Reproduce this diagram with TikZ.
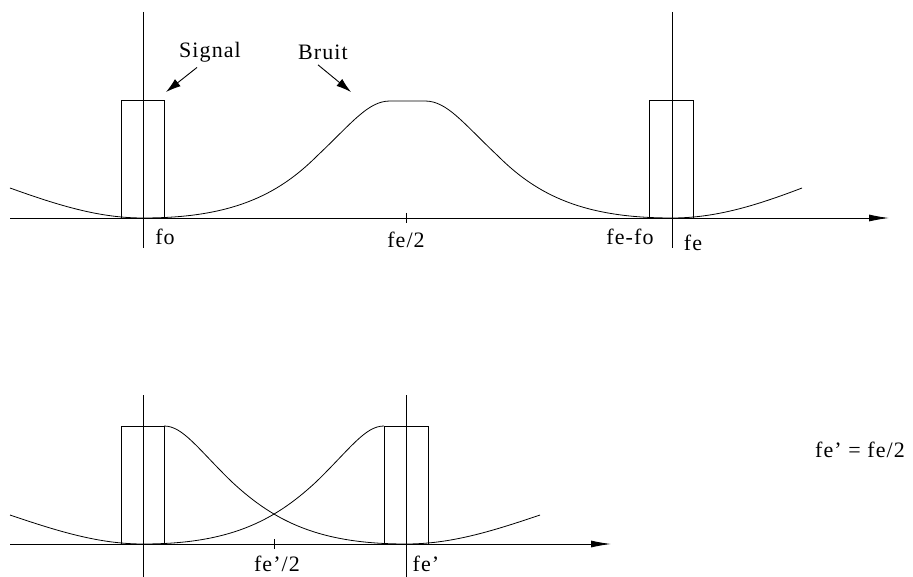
\documentclass[tikz,border=0pt]{standalone}
\usepackage{fontspec}
\setmainfont{Liberation Serif}[LetterSpace=5]
\usetikzlibrary{arrows.meta}
\begin{document}
\begin{tikzpicture}[x=1pt,y=-1pt,line width=0.9pt,
  lbl/.style={inner sep=0pt,font=\fontsize{22}{24}\selectfont},
  axisarrow/.style={-{Latex[length=20pt,width=7pt]}},
  ptr/.style={-{Latex[length=15pt,width=9pt]}},
  curve/.style={line width=0.8pt}]
\useasboundingbox (0,0) rectangle (913,577);
% ---------------- top diagram ----------------
\coordinate (ta0) at (10,218);
\coordinate (ta1) at (889,218);
\draw[axisarrow] (ta0) -- (ta1);
\coordinate (tv1a) at (143,12); \coordinate (tv1b) at (143,248);
\coordinate (tv2a) at (672,12); \coordinate (tv2b) at (672,248);
\draw (tv1a) -- (tv1b);
\draw (tv2a) -- (tv2b);
\draw (121,100) rectangle (164,218);
\draw (649,100) rectangle (693,218);
\draw (406,213) -- (406,223);
% noise curve
\draw[curve] (10,188) .. controls (60,206) and (100,218) .. (143,218)
  .. controls (230,218) and (277,196) .. (317,156)
  .. controls (352,123) and (368,101) .. (390,101)
  -- (425,101)
  .. controls (447,101) and (463,123) .. (498,156)
  .. controls (538,196) and (585,218) .. (672,218)
  .. controls (715,218) and (755,206) .. (802,188);
\node[lbl] (lfo) at (165,237) {fo};
\node[lbl] (lfe2) at (406,240) {fe/2};
\node[lbl] (lfefo) at (630,237) {fe-fo};
\node[lbl] (lfe) at (693,243) {fe};
\node[lbl] (lsig) at (210,52) {Signal};
\node[lbl] (lbru) at (323,52) {Bruit};
\coordinate (sigtip) at (166,92);
\coordinate (brutip) at (351,92);
\draw[ptr] (lsig.south) ++(-13,5) coordinate (sigst) -- (sigtip);
\draw[ptr] (lbru.south) ++(-5,5) coordinate (brust) -- (brutip);
% ---------------- bottom diagram ----------------
\coordinate (ba0) at (10,544);
\coordinate (ba1) at (611,544);
\draw[axisarrow] (ba0) -- (ba1);
\coordinate (bv1a) at (143,395); \coordinate (bv1b) at (143,577);
\coordinate (bv2a) at (406,395); \coordinate (bv2b) at (406,577);
\draw (bv1a) -- (bv1b);
\draw (bv2a) -- (bv2b);
\draw (121,426) rectangle (164,544);
\draw (384,426) rectangle (428,544);
\draw (274,539) -- (274,549);
% curves
\draw[curve] (10,515) .. controls (60,532) and (100,544) .. (143,544)
  .. controls (228,544) and (273,522) .. (316,482)
  .. controls (350,449) and (365,426) .. (384,426);
\draw[curve] (164,426) .. controls (183,426) and (198,449) .. (232,482)
  .. controls (275,522) and (320,544) .. (406,544)
  .. controls (450,544) and (490,532) .. (540,515);
\node[lbl] (lfeh) at (277,564) {fe’/2};
\node[lbl] (lfep) at (426,564) {fe’};
\node[lbl] (leq) at (860,450) {fe’ = fe/2};
\end{tikzpicture}
\end{document}
